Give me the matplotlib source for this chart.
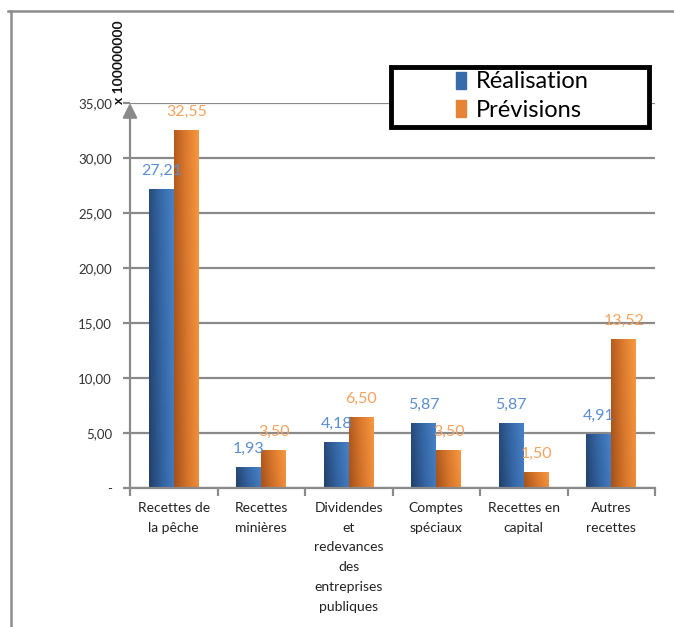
import matplotlib
matplotlib.use("Agg")
import matplotlib.pyplot as plt
import numpy as np
from matplotlib.colors import LinearSegmentedColormap
from matplotlib.patches import Rectangle
from matplotlib.lines import Line2D

categories = ["Recettes de\nla pêche", "Recettes\nminières",
              "Dividendes\net\nredevances\ndes\nentreprises\npubliques",
              "Comptes\nspéciaux", "Recettes en\ncapital", "Autres\nrecettes"]
realisation = [27.21, 1.93, 4.18, 5.87, 5.87, 4.91]
previsions = [32.55, 3.50, 6.50, 3.50, 1.50, 13.52]
yticks = [0, 5, 10, 15, 20, 25, 30, 35]
ytick_labels = ["-", "5,00", "10,00", "15,00", "20,00", "25,00", "30,00", "35,00"]
series_names = ["Réalisation", "Prévisions"]

plt.rcParams['font.family'] = ['Lato', 'DejaVu Sans']

W, H = 674, 627
fig = plt.figure(figsize=(W/100, H/100), dpi=100)
ax = fig.add_axes([130/W, 1-488/H, 525/W, 385/H])

n = len(categories)
x = np.arange(n)
bw = 0.285
blue_cmap = LinearSegmentedColormap.from_list("b", ["#22406a", "#3465a3", "#4882c8"])
orange_cmap = LinearSegmentedColormap.from_list("o", ["#a4501a", "#d8772c", "#f8983f"])
label_cols = ["#5b8ed1", "#f7a15c"]

grad = np.linspace(0, 1, 64).reshape(1, -1)
grad = np.vstack([grad * 0.85 + 0.15 * t for t in np.linspace(0, 1, 32)])

for vals, off, cmap, lc in [(realisation, -bw/2, blue_cmap, label_cols[0]),
                            (previsions, bw/2, orange_cmap, label_cols[1])]:
    bars = ax.bar(x + off, vals, width=bw, color=cmap(0.6), zorder=3, linewidth=0)
    for b, v in zip(bars, vals):
        x0 = b.get_x()
        im = ax.imshow(grad, extent=[x0, x0 + bw, 0, v], origin='lower',
                       aspect='auto', cmap=cmap, zorder=3.5, interpolation='bilinear')
        im.set_clip_path(b)
        ax.annotate(f"{v:.2f}".replace(".", ","), (b.get_x() + bw/2, v),
                    xytext=(0, 13), textcoords='offset points', ha='center',
                    va='center', color=lc, fontsize=11.5, zorder=5)

ax.set_xlim(-0.5, n - 0.5)
ax.set_ylim(0, 35)
ax.set_yticks(yticks)
ax.set_yticklabels(ytick_labels, fontsize=9.5, color="#333333")
ax.yaxis.grid(True, color="#8a8a8a", linewidth=1.6, zorder=0)
ax.set_axisbelow(True)
ax.set_xticks(x)
ax.set_xticklabels(categories, fontsize=10, color="#222222", linespacing=1.78, va='top')
ax.set_xticks(np.arange(n + 1) - 0.5, minor=True)
ax.tick_params(axis='x', which='major', length=0, pad=10)
ax.tick_params(axis='x', which='minor', length=6, width=1.6, color="#8a8a8a")
ax.tick_params(axis='y', length=5, width=1.6, color="#8a8a8a", pad=8)
for s in ['top', 'right', 'left']:
    ax.spines[s].set_visible(False)
ax.spines['bottom'].set_color("#8a8a8a")
ax.spines['bottom'].set_linewidth(1.6)
ax.spines['bottom'].set_zorder(4)

ax.annotate('', xy=(0, 1.0), xytext=(0, 0), xycoords='axes fraction',
            arrowprops=dict(arrowstyle='-|>', color="#8a8a8a", lw=1.6,
                            mutation_scale=22, shrinkA=0, shrinkB=0), zorder=6)

fig.text(119/W, 1-104/H, "x 100000000", rotation=90, ha='center', va='bottom',
         fontsize=10, fontweight='bold', color="#111111")

# legend
handles = [Rectangle((0, 0), 1, 1, color=blue_cmap(0.6)),
           Rectangle((0, 0), 1, 1, color=orange_cmap(0.7))]
leg = fig.legend(handles, series_names, loc='center',
                 bbox_to_anchor=(522/W, 1-96/H), fontsize=17, frameon=False,
                 handlelength=0.45, handleheight=0.75,
                 handletextpad=0.4, labelspacing=0.3, borderpad=0.0,
                 borderaxespad=0)
fig.add_artist(Rectangle((391/W, 1-127/H), 258/W, 60/H, transform=fig.transFigure,
                         fill=True, facecolor='white', edgecolor='black', lw=3.5,
                         zorder=2))
leg.set_zorder(5)

fig.add_artist(Line2D([8/W, 1], [1-11/H, 1-11/H], color="#8c8c8c", lw=1.8))
fig.add_artist(Line2D([11/W, 11/W], [0, 1-11/H], color="#8c8c8c", lw=1.8))

fig.savefig("out.png", dpi=100)
